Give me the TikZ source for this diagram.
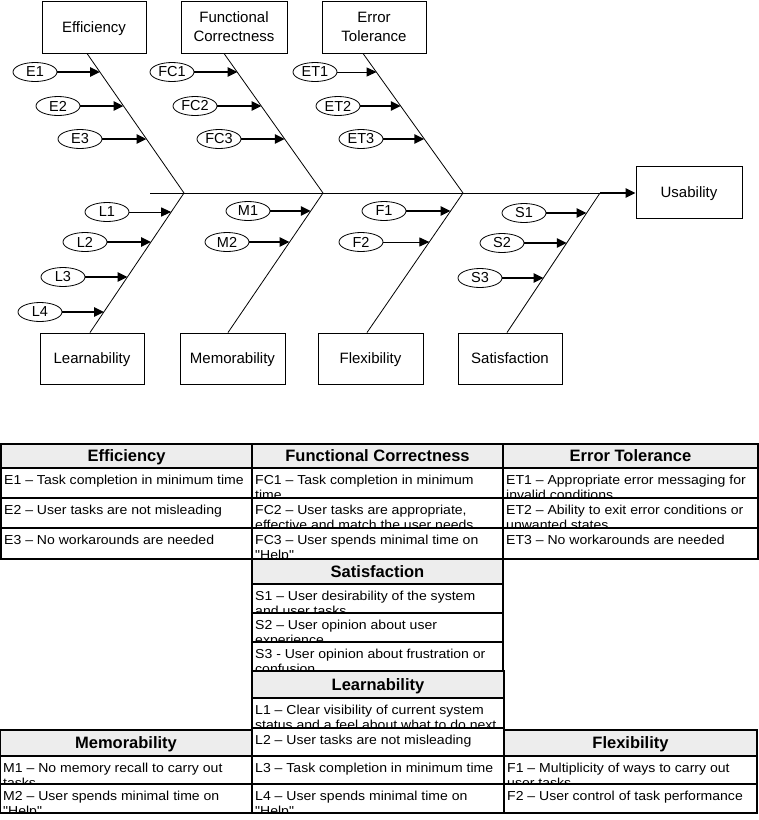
\documentclass[tikz,border=0pt]{standalone}
\usepackage{fontspec}
\setmainfont{Liberation Sans}
\newfontfamily\cellfont[FakeStretch=1.08]{Liberation Sans}
\usetikzlibrary{shapes.geometric,arrows.meta}
\colorlet{hdrgray}{black!7}
\newcommand\tcell[6]{%
  \begin{scope}
    \clip (#2,#3) rectangle (#4,#5);
    \node[celltxt] (#1) at (#2+3,#3+16.5) {\parbox[t]{262pt}{\raggedright #6}};
  \end{scope}
  \draw[gridline] (#2,#3) rectangle (#4,#5);
}
\newcommand\thead[6]{%
  \draw[gridline,fill=hdrgray] (#2,#3) rectangle (#4,#5);
  \node[hdrtxt] (#1) at ({(#2+#4)/2},{(#3+#5)/2+5.9}) {#6};
}
\begin{document}
\begin{tikzpicture}[x=1pt,y=-1pt,
  box/.style={draw, line width=0.9pt, inner sep=0pt, align=center, text depth=0pt, font=\fontsize{15}{19}\selectfont},
  lbl/.style={draw, ellipse, line width=0.8pt, minimum width=44pt, minimum height=19pt, inner sep=0pt, font=\fontsize{14.5}{15}\selectfont},
  bone/.style={line width=0.8pt},
  thk/.style={line width=2.4pt, -{Triangle[length=10pt,width=9pt]}},
  thn/.style={line width=1pt, -{Triangle[length=10pt,width=9pt]}},
  gridline/.style={line width=1.1pt},
  celltxt/.style={anchor=base west, inner sep=0pt, font=\cellfont\fontsize{13}{15}\selectfont},
  hdrtxt/.style={anchor=base, inner sep=0pt, font=\bfseries\fontsize{16.5}{19}\selectfont}
]
\useasboundingbox[fill=white] (0,0) rectangle (759,820);

% ---------- fishbone ----------
\node[box, minimum width=104pt, minimum height=52pt] (eff) at (94,27) {Efficiency};
\node[box, minimum width=106pt, minimum height=52pt] (fc) at (234,27) {Functional\\Correctness};
\node[box, minimum width=104pt, minimum height=52pt] (et) at (374,27) {Error\\Tolerance};
\node[box, minimum width=106pt, minimum height=52pt] (usab) at (689,192) {Usability};
\node[box, minimum width=104pt, minimum height=51pt] (learn) at (92,358.5) {Learnability};
\node[box, minimum width=105pt, minimum height=51pt] (memo) at (232.5,358.5) {Memorability};
\node[box, minimum width=105pt, minimum height=51pt] (flex) at (370.5,358.5) {Flexibility};
\node[box, minimum width=104pt, minimum height=51pt] (sat) at (510,358.5) {Satisfaction};

\coordinate (sp0) at (150,193);
\coordinate (jE) at (184,193);
\coordinate (jF) at (323,193);
\coordinate (jT) at (463,193);
\coordinate (jS) at (600,193);

\draw[bone] (sp0) -- (jS);
\draw[thk] (jS) -- (jS -| usab.west);

\draw[bone] ([xshift=-7pt]eff.south) -- (jE);
\draw[bone] ([xshift=-10pt]fc.south) -- (jF);
\draw[bone] ([xshift=-11pt]et.south) -- (jT);
\draw[bone] ([xshift=-2pt]learn.north) -- (jE);
\draw[bone] ([xshift=-4.5pt]memo.north) -- (jF);
\draw[bone] ([xshift=-3.5pt]flex.north) -- (jT);
\draw[bone] ([xshift=-3pt]sat.north) -- (jS);

% causes
\node[lbl] (e1) at (35,72) {E1};
\node[lbl] (e2) at (58,106) {E2};
\node[lbl] (e3) at (80,139) {E3};
\node[lbl] (fc1) at (172,72) {FC1};
\node[lbl] (fc2) at (195,106) {FC2};
\node[lbl] (fc3) at (219,139) {FC3};
\node[lbl] (et1) at (315,72) {ET1};
\node[lbl] (et2) at (338,106) {ET2};
\node[lbl] (et3) at (361,139) {ET3};
\node[lbl] (l1) at (107,212) {L1};
\node[lbl] (l2) at (85,242) {L2};
\node[lbl] (l3) at (63,277) {L3};
\node[lbl] (l4) at (40,312) {L4};
\node[lbl] (m1) at (248,211) {M1};
\node[lbl] (m2) at (227,242) {M2};
\node[lbl] (f1) at (384,211) {F1};
\node[lbl] (f2) at (361,242) {F2};
\node[lbl] (s1) at (524,213) {S1};
\node[lbl] (s2) at (502,243) {S2};
\node[lbl] (s3) at (480,278) {S3};

\coordinate (te1) at (100,72);
\coordinate (te2) at (123.5,106);
\coordinate (te3) at (146.5,139);
\coordinate (tfc1) at (237.5,72);
\coordinate (tfc2) at (261.5,106);
\coordinate (tfc3) at (284.8,139);
\coordinate (tet1) at (376.6,72);
\coordinate (tet2) at (400.8,106);
\coordinate (tet3) at (424.4,139);
\coordinate (tl1) at (171.2,212);
\coordinate (tl2) at (151.1,242);
\coordinate (tl3) at (127.6,277);
\coordinate (tl4) at (104.1,312);
\coordinate (tm1) at (310.8,211);
\coordinate (tm2) at (289.7,242);
\coordinate (tf1) at (450.7,211);
\coordinate (tf2) at (429.4,242);
\coordinate (ts1) at (586.7,213);
\coordinate (ts2) at (566.8,243);
\coordinate (ts3) at (543.6,278);

\draw[thk] (e1) -- (te1);
\draw[thk] (e2) -- (te2);
\draw[thk] (e3) -- (te3);
\draw[thk] (fc1) -- (tfc1);
\draw[thk] (fc2) -- (tfc2);
\draw[thk] (fc3) -- (tfc3);
\draw[thn] (et1) -- (tet1);
\draw[thk] (et2) -- (tet2);
\draw[thk] (et3) -- (tet3);
\draw[thn] (l1) -- (tl1);
\draw[thk] (l2) -- (tl2);
\draw[thk] (l3) -- (tl3);
\draw[thk] (l4) -- (tl4);
\draw[thk] (m1) -- (tm1);
\draw[thk] (m2) -- (tm2);
\draw[thk] (f1) -- (tf1);
\draw[thn] (f2) -- (tf2);
\draw[thk] (s1) -- (ts1);
\draw[thk] (s2) -- (ts2);
\draw[thk] (s3) -- (ts3);

% ---------- tables ----------
\thead{hE}{1}{444}{252}{468}{Efficiency}
\thead{hFC}{252}{444}{503}{468}{Functional Correctness}
\thead{hET}{503}{444}{758}{468}{Error Tolerance}

\tcell{cE1}{1}{468}{252}{498}{E1 – Task completion in minimum time}
\tcell{cFC1}{252}{468}{503}{498}{FC1 – Task completion in minimum\\time}
\tcell{cET1}{503}{468}{758}{498}{ET1 – Appropriate error messaging for\\invalid conditions}
\tcell{cE2}{1}{498}{252}{528}{E2 – User tasks are not misleading}
\tcell{cFC2}{252}{498}{503}{528}{FC2 – User tasks are appropriate,\\effective and match the user needs}
\tcell{cET2}{503}{498}{758}{528}{ET2 – Ability to exit error conditions or\\unwanted states}
\tcell{cE3}{1}{528}{252}{559}{E3 – No workarounds are needed}
\tcell{cFC3}{252}{528}{503}{559}{FC3 – User spends minimal time on\\"Help"}
\tcell{cET3}{503}{528}{758}{559}{ET3 – No workarounds are needed}

\thead{hS}{252}{559}{503}{584}{Satisfaction}
\tcell{cS1}{252}{584}{503}{613}{S1 – User desirability of the system\\and user tasks}
\tcell{cS2}{252}{613}{503}{642}{S2 – User opinion about user\\experience}
\tcell{cS3}{252}{642}{503}{671}{S3 - User opinion about frustration or\\confusion}

\thead{hL}{252}{671}{504}{698}{Learnability}
\tcell{cL1}{252}{698}{504}{728}{L1 – Clear visibility of current system\\status and a feel about what to do next}
\tcell{cL2}{252}{728}{504}{756}{L2 – User tasks are not misleading}
\tcell{cL3}{252}{756}{504}{784}{L3 – Task completion in minimum time}
\tcell{cL4}{252}{784}{504}{813}{L4 – User spends minimal time on\\"Help"}

\thead{hM}{0}{730}{252}{756}{Memorability}
\tcell{cM1}{0}{756}{252}{784}{M1 – No memory recall to carry out\\tasks}
\tcell{cM2}{0}{784}{252}{813}{M2 – User spends minimal time on\\"Help"}

\thead{hF}{504}{730}{757}{756}{Flexibility}
\tcell{cF1}{504}{756}{757}{784}{F1 – Multiplicity of ways to carry out\\user tasks}
\tcell{cF2}{504}{784}{757}{813}{F2 – User control of task performance}
\end{tikzpicture}
\end{document}
